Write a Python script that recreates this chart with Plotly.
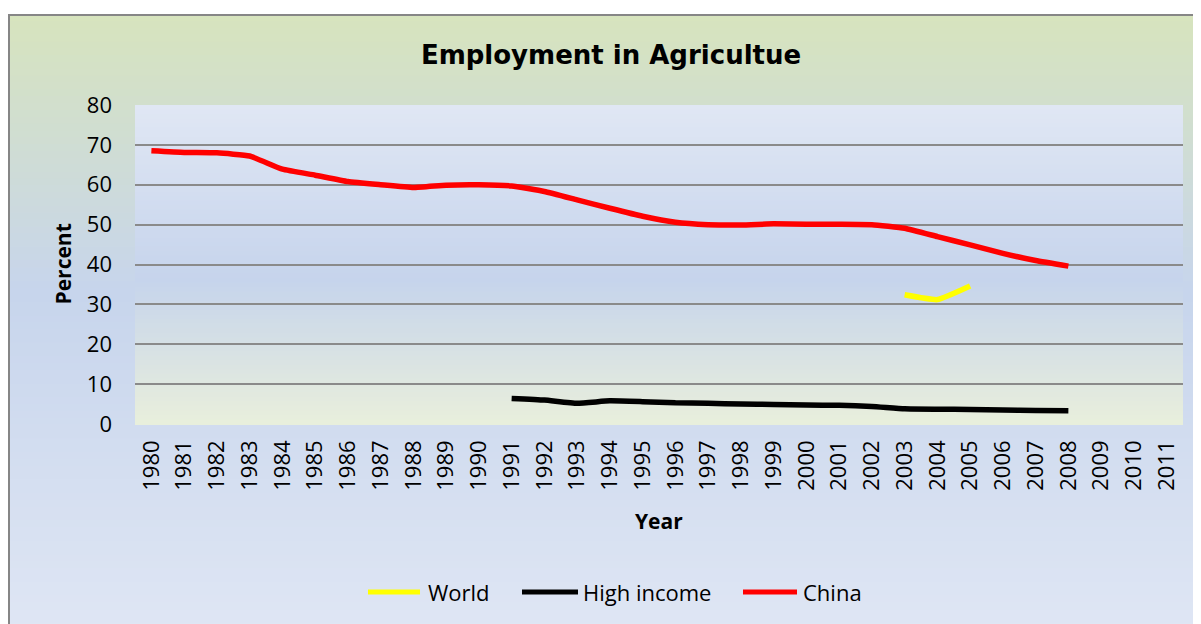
import plotly.graph_objects as go

# ---------------- data ----------------
years = [str(y) for y in range(1980, 2012)]
series_names = ["World", "High income", "China"]

world = [None] * 23 + [32.4, 31.2, 34.6] + [None] * 6
high_income = [None] * 11 + [6.4, 6.0, 5.2, 5.8, 5.6, 5.3, 5.2, 5.0, 4.9, 4.75, 4.7,
                             4.4, 3.8, 3.7, 3.65, 3.5, 3.4, 3.3] + [None] * 3
china = [68.5, 68.1, 68.0, 67.2, 63.9, 62.4, 60.8, 60.0, 59.3, 59.9, 60.0, 59.7,
         58.3, 56.2, 54.1, 52.1, 50.6, 50.0, 49.9, 50.2, 50.1, 50.1, 50.0, 49.1,
         47.0, 44.9, 42.8, 41.0, 39.6] + [None] * 3
y_ticks = [0, 10, 20, 30, 40, 50, 60, 70, 80]

colors = ["#FFFF00", "#000000", "#FF0000"]
values = [world, high_income, china]

# ---------------- geometry (screen px -> figure) ----------------
OFF = 8  # page margin around the figure
W, H = 1201 - OFF, 624 - OFF
L, T = 135 - OFF, 105 - OFF
PW, PH = 1048, 319
R = W - L - PW
B = H - T - PH


def px_x(px):
    return (px - OFF - L) / PW


def px_y(py):
    return (T + PH - (py - OFF)) / PH


def hex2rgb(h):
    h = h.lstrip("#")
    return tuple(int(h[i:i + 2], 16) for i in (0, 2, 4))


def interp(stops, t):
    for (t0, c0), (t1, c1) in zip(stops, stops[1:]):
        if t0 <= t <= t1:
            f = 0 if t1 == t0 else (t - t0) / (t1 - t0)
            a, b = hex2rgb(c0), hex2rgb(c1)
            return "rgb(%d,%d,%d)" % tuple(round(a[i] + (b[i] - a[i]) * f) for i in range(3))
    return stops[-1][1]


shapes = []
# chart-area gradient (top to bottom)
chart_stops = [(0.0, "#d7e4bd"), (0.45, "#c7d5ec"), (1.0, "#dfe6f4")]
N = 90
top_px, bot_px = 14, 630
for i in range(N):
    y0 = top_px + (bot_px - top_px) * i / N
    y1 = top_px + (bot_px - top_px) * (i + 1) / N + 1
    shapes.append(dict(type="rect", xref="paper", yref="paper", layer="below",
                       x0=px_x(8), x1=px_x(1210), y0=px_y(y0), y1=px_y(y1),
                       line=dict(width=0), fillcolor=interp(chart_stops, (i + 0.5) / N)))
# border of chart area
shapes.append(dict(type="rect", xref="paper", yref="paper", layer="below",
                   x0=px_x(9), x1=px_x(1215), y0=px_y(15), y1=px_y(640),
                   line=dict(width=2, color="#868686"), fillcolor="rgba(0,0,0,0)"))
# plot-area gradient
plot_stops = [(0.0, "#e0e7f4"), (0.55, "#c6d4ec"), (1.0, "#e9efdc")]
M = 70
for i in range(M):
    shapes.append(dict(type="rect", xref="paper", yref="paper", layer="below",
                       x0=0, x1=1, y0=1 - i / M, y1=1 - (i + 1) / M - 0.003,
                       line=dict(width=0), fillcolor=interp(plot_stops, (i + 0.5) / M)))

fig = go.Figure()
for name, vals, col in zip(series_names, values, colors):
    fig.add_trace(go.Scatter(x=years, y=vals, name=name, mode="lines",
                             line=dict(color=col, width=5.5, shape="spline", smoothing=0.4),
                             connectgaps=False, showlegend=False))

annotations = []
# axis titles
annotations.append(dict(text="<b>Year</b>", xref="paper", yref="paper", x=0.5, y=px_y(521),
                        xanchor="center", yanchor="middle", showarrow=False,
                        font=dict(family="Open Sans", size=21, color="black")))
annotations.append(dict(text="<b>Percent</b>", xref="paper", yref="paper", x=px_x(62), y=0.5,
                        xanchor="center", yanchor="middle", showarrow=False, textangle=-90,
                        font=dict(family="Open Sans", size=21, color="black")))

# custom legend
leg_y = px_y(592)
leg_lines = [(368, 420, 426), (522, 578, 581), (743, 797, 801)]
for name, col, (lx0, lx1, tx) in zip(series_names, colors, leg_lines):
    shapes.append(dict(type="line", xref="paper", yref="paper", x0=px_x(lx0), x1=px_x(lx1),
                       y0=leg_y, y1=leg_y, line=dict(color=col, width=5)))
    annotations.append(dict(text=name, xref="paper", yref="paper", x=px_x(tx), y=leg_y,
                            xanchor="left", yanchor="middle", showarrow=False,
                            font=dict(family="Open Sans", size=22, color="black")))

fig.update_layout(
    width=W, height=H,
    margin=dict(l=L, r=R, t=T, b=B, pad=0),
    paper_bgcolor="white",
    plot_bgcolor="rgba(0,0,0,0)",
    title=dict(text="<b>Employment in Agricultue</b>", x=(611 - OFF) / W, y=1 - (55 - OFF) / H,
               xanchor="center", yanchor="middle",
               font=dict(family="DejaVu Sans", size=26, color="black")),
    shapes=shapes,
    annotations=annotations,
    showlegend=False,
    xaxis=dict(type="category", categoryorder="array", categoryarray=years,
               tickvals=years, ticktext=years, range=[-0.5, len(years) - 0.5],
               tickangle=-90, showgrid=False, zeroline=False, showline=False,
               ticks="", ticklabelstandoff=11,
               tickfont=dict(family="Open Sans", size=22, color="black")),
    yaxis=dict(range=[0, 80], tickvals=y_ticks, showgrid=True, gridcolor="#8a8a8a",
               gridwidth=2, zeroline=False, showline=False, ticks="",
               ticklabelstandoff=22,
               tickfont=dict(family="Open Sans", size=22, color="black")),
)

fig.write_html("out.html")
